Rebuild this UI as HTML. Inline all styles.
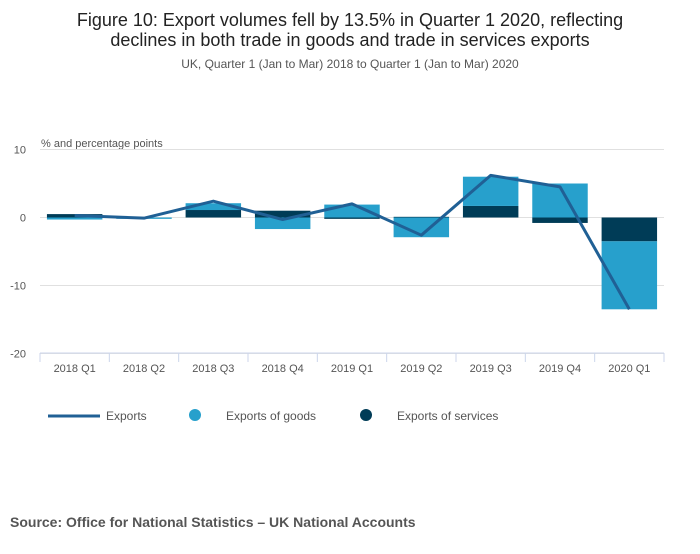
<!DOCTYPE html>
<html><head><meta charset="utf-8"><style>
body{margin:0;background:#fff;font-family:"Liberation Sans",sans-serif;}
svg text{font-family:"Liberation Sans",sans-serif;}
</style></head><body>
<svg width="700" height="549">
<text x="350" y="26" text-anchor="middle" font-size="18" fill="#222">Figure 10: Export volumes fell by 13.5% in Quarter 1 2020, reflecting</text>
<text x="350" y="46" text-anchor="middle" font-size="18" fill="#222">declines in both trade in goods and trade in services exports</text>
<text x="350" y="68" text-anchor="middle" font-size="12" fill="#555">UK, Quarter 1 (Jan to Mar) 2018 to Quarter 1 (Jan to Mar) 2020</text>
<text x="41" y="147" font-size="11" fill="#555">% and percentage points</text>
<g id="grid"></g><g id="bars"></g><g id="line"></g><g id="xaxis"></g>
<g>
<line x1="48" y1="416" x2="100" y2="416" stroke="#206095" stroke-width="3"/>
<text x="106" y="420" font-size="12" fill="#555">Exports</text>
<circle cx="195" cy="415" r="6" fill="#27a0cc"/>
<text x="226" y="420" font-size="12" fill="#555">Exports of goods</text>
<circle cx="366" cy="415" r="6" fill="#003c57"/>
<text x="397" y="420" font-size="12" fill="#555">Exports of services</text>
</g>
<text x="10" y="527" font-size="14" font-weight="bold" fill="#555">Source: Office for National Statistics – UK National Accounts</text>
</svg>
<script>
const categories=["2018 Q1","2018 Q2","2018 Q3","2018 Q4","2019 Q1","2019 Q2","2019 Q3","2019 Q4","2020 Q1"];
const goods=[-0.3,-0.2,1.0,-1.7,1.9,-2.9,4.3,5.0,-10.0];
const services=[0.5,0.0,1.1,1.0,-0.2,0.1,1.7,-0.8,-3.5];
const exportsLine=[0.3,-0.1,2.4,-0.3,2.0,-2.6,6.2,4.5,-13.5];
const yTicks=[10,0,-10,-20];
const NS="http://www.w3.org/2000/svg";
const x0=40,x1=664,bw=(x1-x0)/categories.length;
const y=v=>217.5-v*6.8;
const xc=i=>x0+bw*(i+0.5);
function mk(tag,attrs,parent){const e=document.createElementNS(NS,tag);for(const k in attrs)e.setAttribute(k,attrs[k]);document.getElementById(parent).appendChild(e);return e;}
yTicks.forEach(t=>{
 const l=mk('line',{x1:x0,x2:x1,y1:y(t),y2:y(t),stroke:'#e0e0e0'},'grid');
 
 
 const tx=mk('text',{x:26,y:y(t)+4,'text-anchor':'end','font-size':11,fill:'#555'},'grid');
 tx.textContent=t;
 
 
});
categories.forEach((c,i)=>{
 let pos=0,neg=0;
 [[services[i],'#003c57','bar-services'],[goods[i],'#27a0cc','bar-goods']].forEach(([v,col,nm])=>{
  let a,b;
  if(v>=0){a=pos;b=pos+v;pos=b;}else{a=neg;b=neg+v;neg=b;}
  const r=mk('rect',{x:xc(i)-bw*0.4,width:bw*0.8,y:Math.min(y(a),y(b)),height:Math.abs(y(a)-y(b)),fill:col},'bars');
  
  
 });
 const t=mk('text',{x:xc(i),y:372,'text-anchor':'middle','font-size':11,fill:'#555'},'xaxis');
 t.textContent=c;
 
 
});
for(let i=0;i<=categories.length;i++){
 const l=mk('line',{x1:x0+bw*i,x2:x0+bw*i,y1:353,y2:362,stroke:'#ccd6eb'},'xaxis');
 
 
}
const ax=mk('line',{x1:x0,x2:x1,y1:353,y2:353,stroke:'#ccd6eb'},'xaxis');


const p=mk('polyline',{points:exportsLine.map((v,i)=>xc(i)+','+y(v)).join(' '),fill:'none',stroke:'#206095','stroke-width':3,'stroke-linejoin':'round'},'line');


</script>
</body></html>
